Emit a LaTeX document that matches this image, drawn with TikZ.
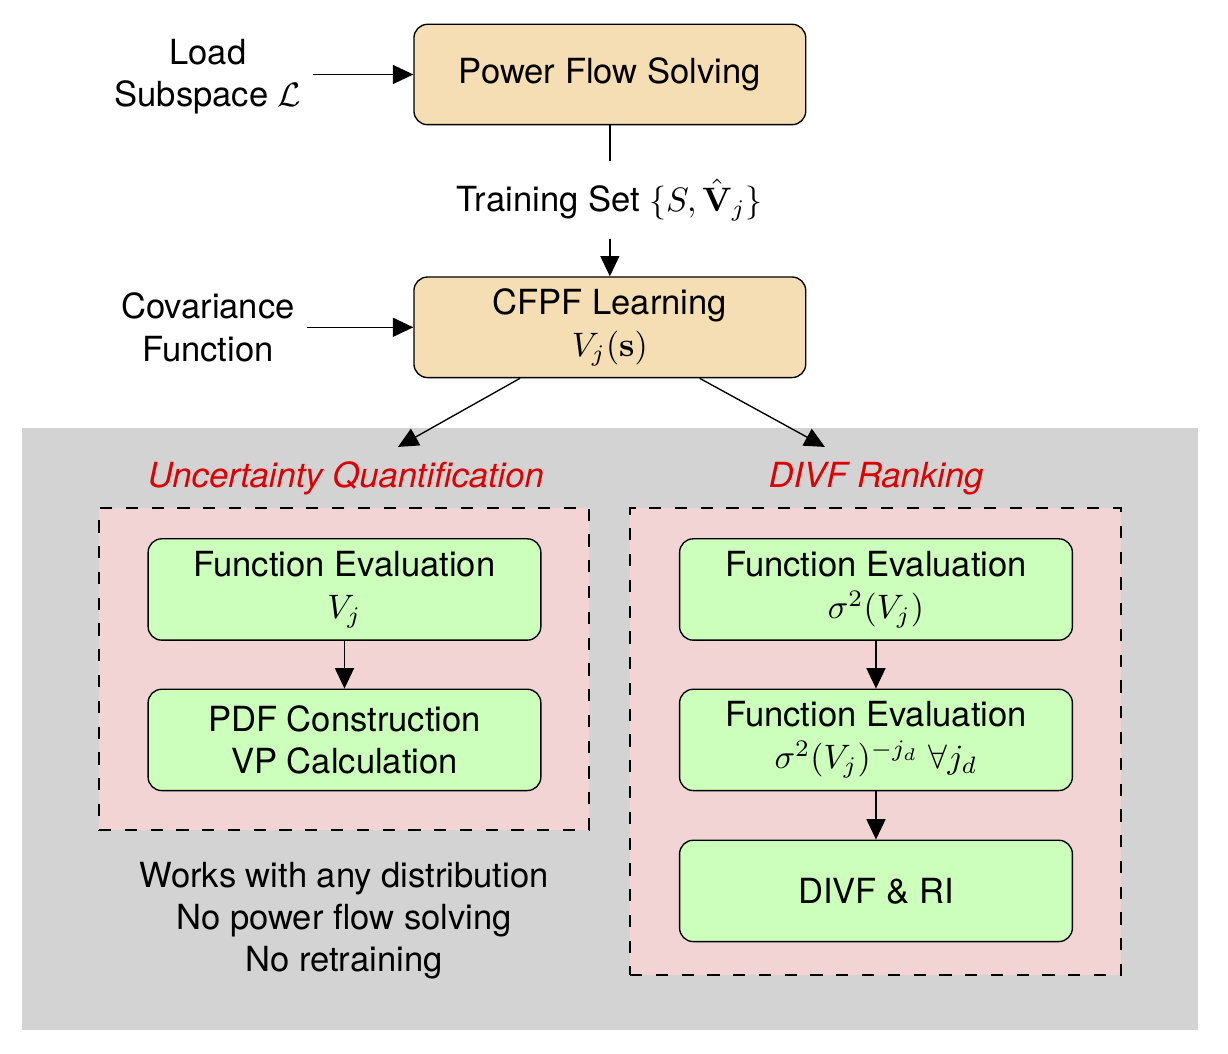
\documentclass[tikz,border=0pt]{standalone}
\usepackage{amssymb}
\usepackage{amsmath}
\usepackage[no-math]{fontspec}
\setmainfont{TeX Gyre Heros}
\usepackage{tikz}
\usepackage{xcolor}
\usetikzlibrary{positioning,arrows.meta}

\definecolor{boxtan}{RGB}{245,222,179}
\definecolor{evalgreen}{RGB}{204,255,187}
\definecolor{grouppink}{RGB}{242,212,212}
\definecolor{bggray}{RGB}{211,211,211}
\definecolor{headred}{RGB}{222,0,0}

\begin{document}
\begin{tikzpicture}
  [font=\fontsize{10.2}{12.5}\selectfont,
   proc/.style={draw,rounded corners=4pt,fill=boxtan,minimum width=4.06cm,minimum height=1.04cm,align=center},
   eval/.style={draw,rounded corners=4pt,fill=evalgreen,minimum width=4.07cm,minimum height=1.05cm,align=center},
   group/.style={draw,dash pattern=on 3.6pt off 4pt,fill=grouppink,inner sep=0pt},
   head/.style={text=headred,font=\fontsize{10.2}{12.5}\selectfont\itshape},
   arr/.style={-{Triangle[length=6pt,width=5.6pt]}}]

  \useasboundingbox (0,0) rectangle (12.726,10.922);
  \fill[bggray] (0.228,0.249) rectangle (12.415,6.487);

  \node[proc] (n1) at (6.32,10.15) {Power Flow Solving};
  \node[proc] (n2) at (6.32,7.53) {CFPF Learning\\$V_j(\mathbf{s})$};
  \node[align=center] (load) at (2.155,10.13) {Load\\Subspace $\mathcal{L}$};
  \node[align=center] (cov) at (2.155,7.53) {Covariance\\Function};
  \node[inner sep=5pt] (train) at (6.32,8.85) {Training Set $\{S,\hat{\mathbf{V}}_j\}$};

  \node[head] (uq) at (3.585,5.96) {Uncertainty Quantification};
  \node[head] (rank) at (9.078,5.96) {DIVF Ranking};
  \coordinate (uqin) at (4.124,6.29);
  \coordinate (rankin) at (8.549,6.29);

  \node[group,minimum width=5.078cm,minimum height=3.337cm] (g1) at (3.565,3.99) {};
  \node[group,minimum width=5.088cm,minimum height=4.839cm] (g2) at (9.073,3.238) {};

  \node[eval] (e1) at (3.57,4.813) {Function Evaluation\\$V_j$};
  \node[eval] (e2) at (3.57,3.254) {PDF Construction\\VP Calculation};
  \node[eval] (e3) at (9.078,4.813) {Function Evaluation\\$\sigma^2(V_j)$};
  \node[eval] (e4) at (9.078,3.254) {Function Evaluation\\$\sigma^2(V_j)^{-j_d}\ \forall j_d$};
  \node[eval] (e5) at (9.078,1.689) {DIVF \& RI};

  \node[align=center] (notes) at (3.565,1.38) {Works with any distribution\\No power flow solving\\No retraining};

  \draw[arr] (load.east |- n1.west) -- (n1.west);
  \draw[arr] (cov.east |- n2.west) -- (n2.west);
  \draw (n1) -- (train);
  \draw[arr] (train) -- (n2);
  \draw[arr] ([xshift=-0.93cm]n2.south) -- (uqin);
  \draw[arr] ([xshift=0.93cm]n2.south) -- (rankin);

  \foreach \from/\to in {e1/e2,e3/e4,e4/e5}
    \draw[arr] (\from) -- (\to);

\end{tikzpicture}
\end{document}
